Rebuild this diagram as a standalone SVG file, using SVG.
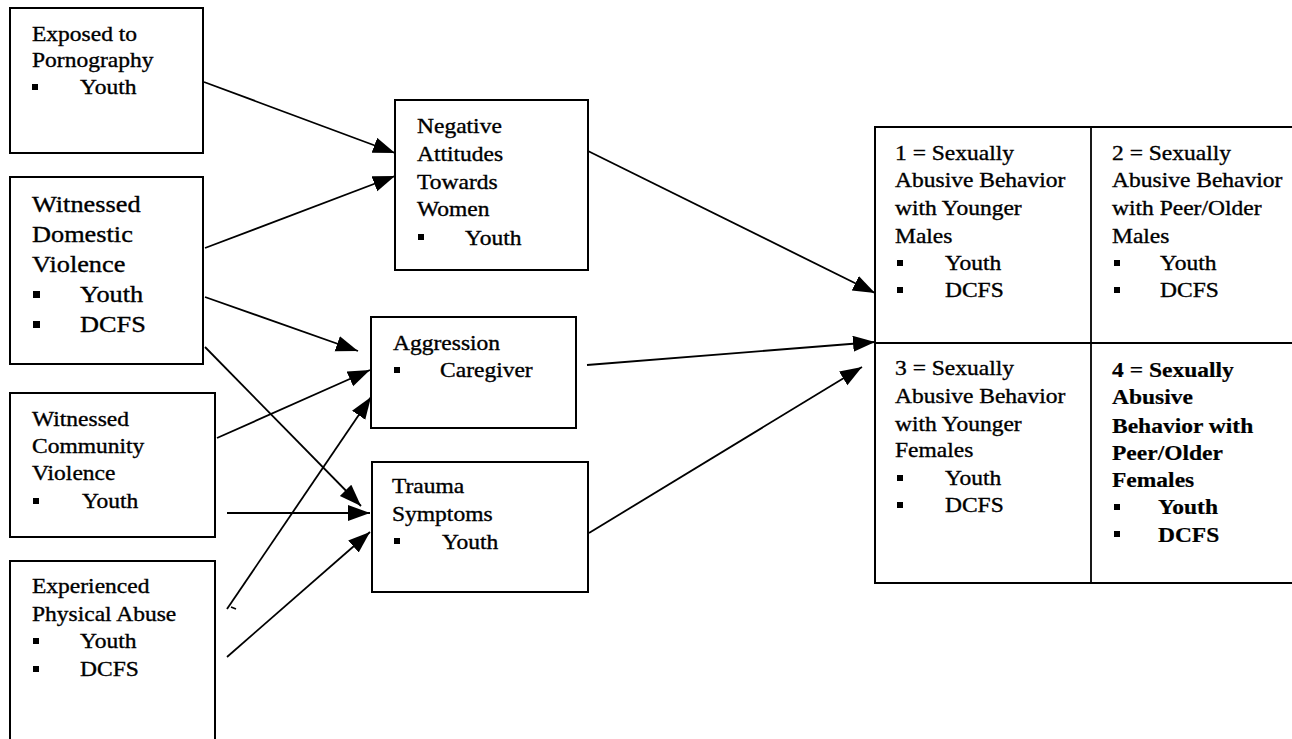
<svg xmlns="http://www.w3.org/2000/svg" width="1292" height="739" viewBox="0 0 1292 739">
<style>
.box{fill:#fff;stroke:#000;stroke-width:2}
.t{font-family:'Liberation Serif','Times New Roman',serif;font-size:21px;fill:#000;stroke:#000;stroke-width:0.35}
.big{font-size:23.5px}
.b{font-weight:bold;stroke-width:0.2}
.bul{fill:#000}
.c{stroke:#000;stroke-width:1.8;fill:none}
</style>
<defs>
<marker id="ah" markerUnits="userSpaceOnUse" markerWidth="24" markerHeight="18" refX="22" refY="8" orient="auto">
<path d="M0,0 L22,8 L0,16 z" fill="#000"/>
</marker>
</defs>
<rect width="1292" height="739" fill="#fff"/>

<g id="connectors">
<line class="c" x1="204" y1="82" x2="395" y2="153" marker-end="url(#ah)"/>
<line class="c" x1="205" y1="248" x2="395" y2="176" marker-end="url(#ah)"/>
<line class="c" x1="205" y1="297" x2="358" y2="351" marker-end="url(#ah)"/>
<line class="c" x1="205" y1="347" x2="361" y2="506" marker-end="url(#ah)"/>
<line class="c" x1="217" y1="438" x2="370" y2="370" marker-end="url(#ah)"/>
<line class="c" x1="227" y1="513" x2="370" y2="513" marker-end="url(#ah)"/>
<line class="c" x1="227" y1="609" x2="371" y2="397" marker-end="url(#ah)"/>
<path class="c" d="M231,607 L236,609" stroke-width="1.2"/>
<line class="c" x1="227" y1="657" x2="370" y2="532" marker-end="url(#ah)"/>
<line class="c" x1="588" y1="151" x2="875" y2="293" marker-end="url(#ah)"/>
<line class="c" x1="587" y1="365" x2="875" y2="342" marker-end="url(#ah)"/>
<line class="c" x1="589" y1="533" x2="862" y2="367" marker-end="url(#ah)"/>
</g>

<g id="exposed">
<rect class="box" x="10" y="8" width="193" height="145"/>
<g transform="translate(32 0) scale(1.12 1)">
<text class="t" x="0" y="41.5">Exposed to</text>
<text class="t" x="0" y="67">Pornography</text>
<text class="t" x="42.9" y="94">Youth</text>
</g>
<rect class="bul" x="32" y="84" width="6" height="6"/>
</g>

<g id="domestic">
<rect class="box" x="10" y="177" width="193" height="187"/>
<g transform="translate(32 0) scale(1.12 1)">
<text class="t big" x="0" y="212">Witnessed</text>
<text class="t big" x="0" y="242">Domestic</text>
<text class="t big" x="0" y="272">Violence</text>
<text class="t big" x="42.9" y="302">Youth</text>
<text class="t big" x="42.9" y="332">DCFS</text>
</g>
<rect class="bul" x="33" y="291" width="7" height="7"/>
<rect class="bul" x="33" y="321" width="7" height="7"/>
</g>

<g id="community">
<rect class="box" x="10" y="393" width="205" height="144"/>
<g transform="translate(32 0) scale(1.12 1)">
<text class="t" x="0" y="426">Witnessed</text>
<text class="t" x="0" y="453">Community</text>
<text class="t" x="0" y="480">Violence</text>
<text class="t" x="44.6" y="508">Youth</text>
</g>
<rect class="bul" x="33" y="498" width="6" height="6"/>
</g>

<g id="physical">
<path class="box" d="M10,745 L10,561 L215,561 L215,745"/>
<g transform="translate(32 0) scale(1.12 1)">
<text class="t" x="0" y="593">Experienced</text>
<text class="t" x="0" y="621">Physical Abuse</text>
<text class="t" x="42.9" y="648">Youth</text>
<text class="t" x="42.9" y="676">DCFS</text>
</g>
<rect class="bul" x="33" y="638" width="6" height="6"/>
<rect class="bul" x="33" y="666" width="6" height="6"/>
</g>

<g id="negative">
<rect class="box" x="395" y="100" width="193" height="170"/>
<g transform="translate(417 0) scale(1.12 1)">
<text class="t" x="0" y="133">Negative</text>
<text class="t" x="0" y="161.5">Attitudes</text>
<text class="t" x="0" y="189">Towards</text>
<text class="t" x="0" y="216.5">Women</text>
<text class="t" x="42.9" y="245">Youth</text>
</g>
<rect class="bul" x="418" y="234" width="6" height="6"/>
</g>

<g id="aggression">
<rect class="box" x="371" y="317" width="205" height="111"/>
<g transform="translate(393 0) scale(1.12 1)">
<text class="t" x="0" y="350">Aggression</text>
<text class="t" x="42" y="377.5">Caregiver</text>
</g>
<rect class="bul" x="394" y="367" width="6" height="6"/>
</g>

<g id="trauma">
<rect class="box" x="372" y="462" width="216" height="130"/>
<g transform="translate(392 0) scale(1.12 1)">
<text class="t" x="0" y="493">Trauma</text>
<text class="t" x="0" y="521">Symptoms</text>
<text class="t" x="44.6" y="549">Youth</text>
</g>
<rect class="bul" x="394" y="538" width="6" height="6"/>
</g>

<g id="outcomes">
<path class="box" d="M1300,127 L875,127 L875,583 L1300,583"/>
<line class="c" x1="1091" y1="127" x2="1091" y2="583" stroke-width="2"/>
<line class="c" x1="875" y1="343" x2="1300" y2="343" stroke-width="2"/>
</g>

<g id="outcome1">
<g transform="translate(895 0) scale(1.12 1)">
<text class="t" x="0" y="160">1 = Sexually</text>
<text class="t" x="0" y="187.3">Abusive Behavior</text>
<text class="t" x="0" y="215">with Younger</text>
<text class="t" x="0" y="243">Males</text>
<text class="t" x="44.6" y="270">Youth</text>
<text class="t" x="44.6" y="297">DCFS</text>
</g>
<rect class="bul" x="897" y="260" width="6" height="6"/>
<rect class="bul" x="897" y="287" width="6" height="6"/>
</g>

<g id="outcome2">
<g transform="translate(1112 0) scale(1.12 1)">
<text class="t" x="0" y="160">2 = Sexually</text>
<text class="t" x="0" y="187.3">Abusive Behavior</text>
<text class="t" x="0" y="215">with Peer/Older</text>
<text class="t" x="0" y="243">Males</text>
<text class="t" x="42.9" y="270">Youth</text>
<text class="t" x="42.9" y="297">DCFS</text>
</g>
<rect class="bul" x="1114" y="260" width="6" height="6"/>
<rect class="bul" x="1114" y="287" width="6" height="6"/>
</g>

<g id="outcome3">
<g transform="translate(895 0) scale(1.12 1)">
<text class="t" x="0" y="375">3 = Sexually</text>
<text class="t" x="0" y="403.3">Abusive Behavior</text>
<text class="t" x="0" y="430.7">with Younger</text>
<text class="t" x="0" y="457.3">Females</text>
<text class="t" x="44.6" y="485">Youth</text>
<text class="t" x="44.6" y="512.3">DCFS</text>
</g>
<rect class="bul" x="897" y="475" width="6" height="6"/>
<rect class="bul" x="897" y="502" width="6" height="6"/>
</g>

<g id="outcome4">
<g transform="translate(1112 0) scale(1.12 1)">
<text class="t b" x="0" y="376.7">4 = Sexually</text>
<text class="t b" x="0" y="404">Abusive</text>
<text class="t b" x="0" y="432.7">Behavior with</text>
<text class="t b" x="0" y="460">Peer/Older</text>
<text class="t b" x="0" y="486.7">Females</text>
<text class="t b" x="41" y="514">Youth</text>
<text class="t b" x="41" y="541.7">DCFS</text>
</g>
<rect class="bul" x="1114" y="504" width="6" height="6"/>
<rect class="bul" x="1114" y="531" width="6" height="6"/>
</g>
</svg>
